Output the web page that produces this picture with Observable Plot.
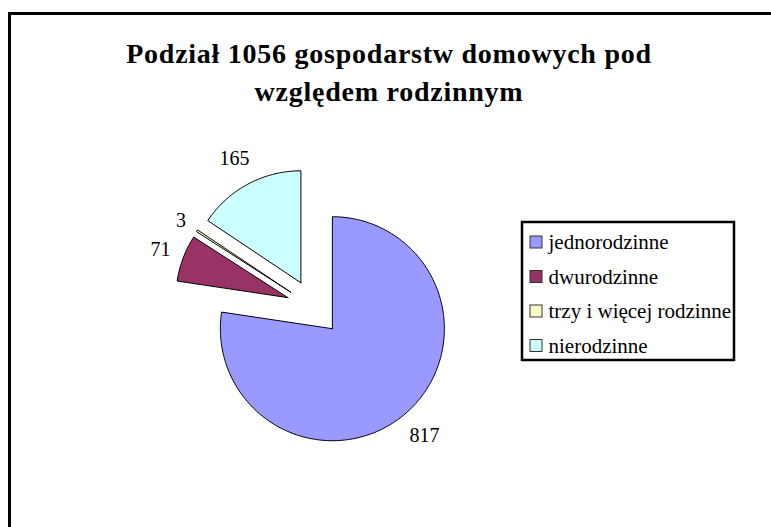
<!DOCTYPE html>
<html>
<head>
<meta charset="utf-8">
<script src="https://cdn.jsdelivr.net/npm/d3@7"></script>
<script src="https://cdn.jsdelivr.net/npm/@observablehq/plot@0.6"></script>
<style>
  html, body { margin: 0; padding: 0; background: #fff; overflow: hidden; }
  #wrap { position: relative; width: 771px; height: 527px; overflow: hidden; }
  #frame { position: absolute; left: 8px; top: 12px; width: 800px; height: 560px; border: 3px solid #000; box-sizing: border-box; }
  #title { position: absolute; left: 0; width: 778px; top: 35px; text-align: center;
    font-family: "Liberation Serif", "Times New Roman", serif; font-weight: bold; font-size: 28px;
    line-height: 38px; letter-spacing: 0.75px; color: #000; }
  #chart { position: absolute; left: 0; top: 0; }
</style>
</head>
<body>
<div id="wrap">
  <div id="frame"></div>
  <div id="chart"></div>
  <div id="title"></div>
</div>
<script>
// ---- data ----
const categories = ["jednorodzinne", "dwurodzinne", "trzy i więcej rodzinne", "nierodzinne"];
const values = [817, 71, 3, 165];
const colors = ["#9999FF", "#993366", "#FFFFCC", "#CCFFFF"];
const titleLines = ["Podział 1056 gospodarstw domowych pod", "względem rodzinnym"];

// ---- layout ----
const W = 771, H = 527;
const cx = 313.6, cy = 307, R = 112, explode = 28;
const legend = {x1: 522, y1: 222, x2: 734, y2: 360, swX: 530, sw: 12, textX: 548, rowY0: 242, rowStep: 34.5};

document.getElementById("title").innerHTML = titleLines.join("<br>");

const table = categories.map((c, i) => ({category: c, value: values[i], order: i}));
const arcs = d3.pie().sort(null).value(d => d.value).startAngle(0).endAngle(2 * Math.PI)(table);

const outline = [];
const labels = [];
arcs.forEach(a => {
  const m = (a.startAngle + a.endAngle) / 2;
  const ux = Math.sin(m), uy = -Math.cos(m);
  const ax = cx + explode * ux, ay = cy + explode * uy;
  const pts = [[ax, ay]];
  const n = Math.max(2, Math.ceil((a.endAngle - a.startAngle) / (Math.PI / 180)));
  for (let k = 0; k <= n; k++) {
    const t = a.startAngle + (a.endAngle - a.startAngle) * k / n;
    pts.push([ax + R * Math.sin(t), ay - R * Math.cos(t)]);
  }
  pts.push([ax, ay]);
  pts.forEach(([x, y]) => outline.push({category: a.data.category, x, y}));
  const txt = String(a.data.value);
  const dist = R + 14 + 5 * txt.length;
  labels.push({x: ax + dist * ux, y: ay + dist * uy, text: txt});
});

const legendRows = categories.map((c, i) => ({category: c, y: legend.rowY0 + i * legend.rowStep}));

const chart = Plot.plot({
  width: W, height: H,
  margin: 0,
  x: {type: "identity", axis: null},
  y: {type: "identity", axis: null},
  color: {domain: categories, range: colors},
  style: {background: "transparent", fontFamily: "'Liberation Serif', 'Times New Roman', serif"},
  marks: [
    Plot.line(outline, {x: "x", y: "y", z: "category", fill: "category", stroke: "#000", strokeWidth: 1, curve: "linear"}),
    Plot.text(labels, {x: "x", y: "y", text: "text", fontSize: 20, fill: "#000", textAnchor: "middle", lineAnchor: "middle"}),
    Plot.rect([legend], {x1: "x1", x2: "x2", y1: "y1", y2: "y2", fill: "#fff", stroke: "#000", strokeWidth: 2.5}),
    Plot.rect(legendRows, {x1: legend.swX, x2: legend.swX + legend.sw, y1: d => d.y - legend.sw / 2, y2: d => d.y + legend.sw / 2, fill: "category", stroke: "#333", strokeWidth: 1}),
    Plot.text(legendRows, {x: legend.textX, y: "y", text: "category", fontSize: 21, fill: "#000", textAnchor: "start", lineAnchor: "middle"})
  ]
});
document.getElementById("chart").appendChild(chart);
</script>
</body>
</html>
